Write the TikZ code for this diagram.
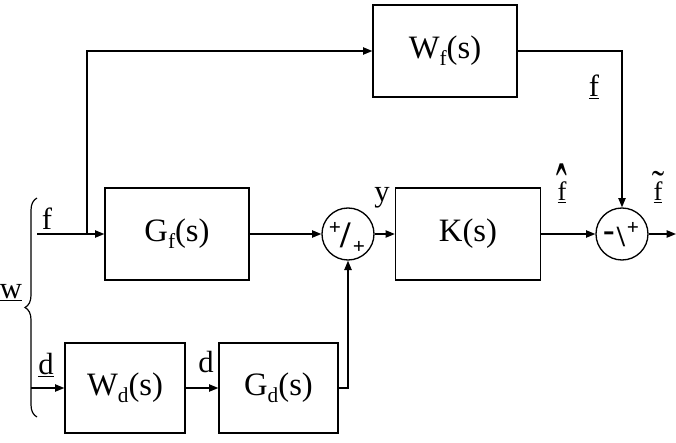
\documentclass[tikz,border=0pt]{standalone}
\usepackage{fontspec}
\setmainfont{Liberation Serif}
\usetikzlibrary{arrows.meta,decorations.pathreplacing}
\newcommand{\lsub}[1]{\raisebox{-0.45ex}{\fontsize{16}{16}\selectfont #1}}
\newcommand{\hatf}{\underline{f}\llap{\makebox[0.333em][c]{\raisebox{-14.5pt}{\scalebox{1.2}[3]{ˆ}}}}}
\newcommand{\tilf}{\underline{f}\llap{\makebox[0.333em][c]{\raisebox{2.5pt}{\scalebox{1.4}{˜}}}}}
\begin{document}
\begin{tikzpicture}[x=0.75pt,y=-0.75pt,
  line width=1pt,
  >={Triangle[length=7pt,width=5.5pt]},
  blk/.style 2 args={draw, rectangle, inner sep=0pt, minimum width=#1*0.75pt, minimum height=#2*0.75pt, font=\fontsize{24.5}{24.5}\selectfont},
  sumc/.style={draw, circle, inner sep=0pt, minimum size=39pt},
  lbl/.style={font=\fontsize{23}{23}\selectfont, inner sep=0pt, anchor=base},
  slbl/.style={font=\fontsize{20}{20}\selectfont, inner sep=0pt, anchor=base},
  sml/.style={font=\fontsize{16}{16}\selectfont\bfseries, inner sep=0pt},
  sgn/.style={font=\fontsize{28}{28}\selectfont\bfseries, inner sep=0pt},
]
\useasboundingbox (0,0) rectangle (676,443);

\node[blk={144}{92}] (Wf) at (445,51) {W\lsub{f}(s)};
\node[blk={144}{92}] (Gf) at (177,234) {G\lsub{f}(s)};
\node[blk={145}{92}] (K) at (468,234) {K(s)};
\node[blk={120}{90}] (Wd) at (125,388) {W\lsub{d}(s)};
\node[blk={119}{90}] (Gd) at (278.5,388) {G\lsub{d}(s)};
\node[sumc] (s1) at (348,234) {};
\node[sumc] (s2) at (622,234) {};

\coordinate (fin) at (37,234);
\coordinate (br) at (87,234);
\coordinate (din) at (31,388);
\coordinate (out) at (676,234);

\draw[->] (fin) -- (Gf.west);
\draw[->] (br) |- (Wf.west);
\draw[->] (Wf.east) -| (s2.north);
\draw[->] (Gf.east) -- (s1.west);
\draw[->] (s1.east) -- (K.west);
\draw[->] (K.east) -- (s2.west);
\draw[->] (s2.east) -- (out);
\draw[->] (din) -- (Wd.west);
\draw[->] (Wd.east) -- (Gd.west);
\draw[->] (Gd.east) -| (s1.south);

\draw[line width=0.9pt, decorate, decoration={brace, amplitude=9pt}] (37,417) -- (37,198);

% signs in summing junctions
\node[sml] (p1) at (335,228) {+};
\node[sgn] (sl1) at (346,235) {/};
\node[sml] (p2) at (359,247) {+};
\node[font=\fontsize{26}{26}\selectfont\bfseries, inner sep=0pt] (m2) at (609,237) {-};
\node[font=\fontsize{22}{22}\selectfont\bfseries, inner sep=0pt] (bs2) at (621,237) {\textbackslash};
\node[sml] (p3) at (633,228) {+};

% labels
\node[lbl] (lf) at (47,229) {f};
\node[lbl] (ld) at (46,374) {\underline{d}};
\node[lbl] (lw) at (11,298) {\underline{w}};
\node[lbl] (lf2) at (594,96) {\underline{f}};
\node[slbl] (lfh) at (562,200) {\hatf};
\node[slbl] (lft) at (658,200) {\tilf};
\node[lbl] (ly) at (382,201) {y};
\node[lbl] (ld2) at (206,372) {d};
\end{tikzpicture}
\end{document}
